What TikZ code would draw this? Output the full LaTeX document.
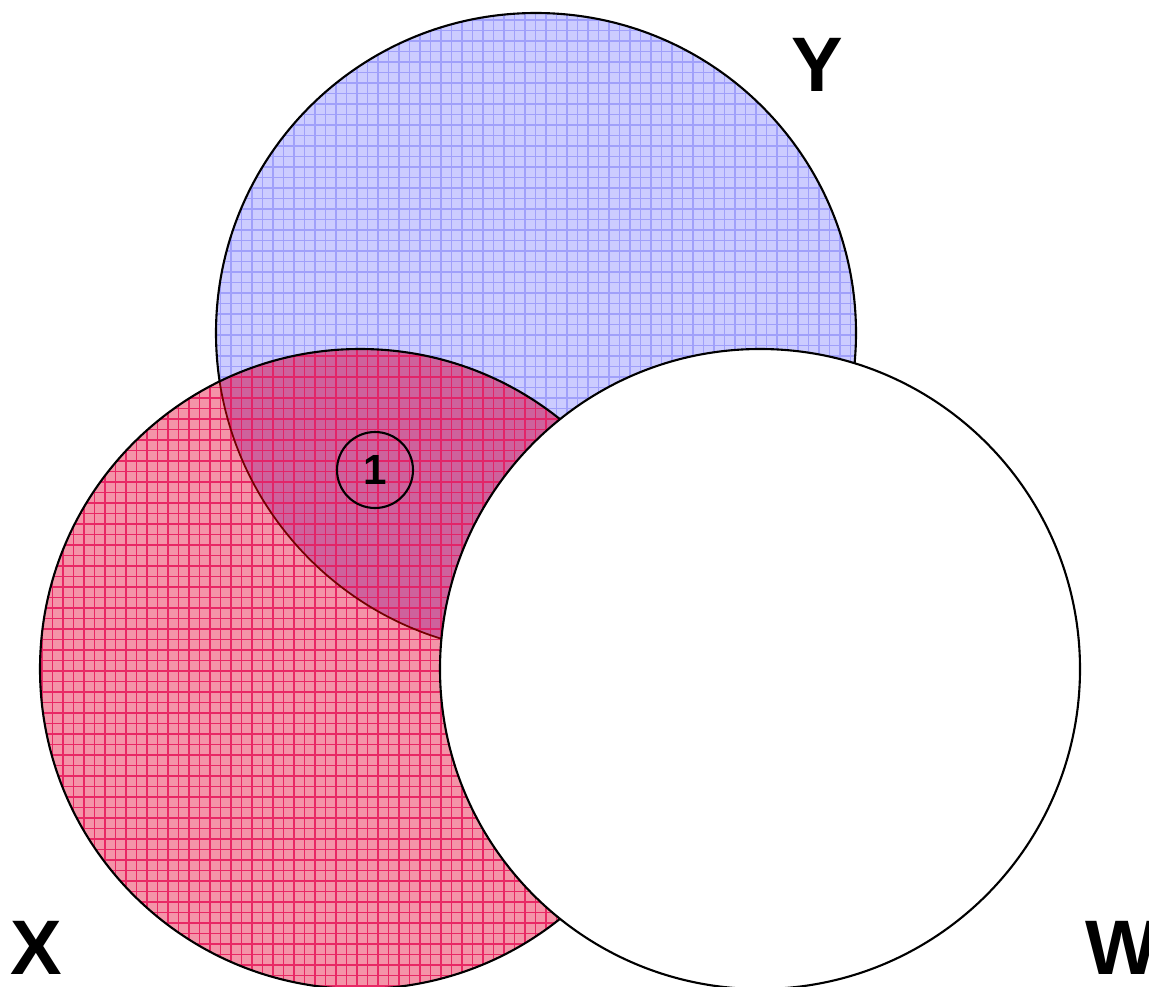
\documentclass[tikz,border=0pt]{standalone}
\usepackage{fontspec}
\setmainfont{Liberation Sans}
\usetikzlibrary{positioning}
\definecolor{yfill}{RGB}{204,204,255}
\definecolor{ygrid}{RGB}{160,160,250}
\definecolor{xfill}{RGB}{244,148,168}
\definecolor{xgrid}{RGB}{232,40,100}
\definecolor{xyfill}{RGB}{206,98,156}
\definecolor{xygrid}{RGB}{226,36,104}
\tikzset{
  setlabel/.style={font=\fontsize{22}{26}\selectfont\bfseries},
  gridlines/.style={line width=0.35pt,step=0.105},
  outline/.style={line width=0.6pt}
}
\begin{document}
\begin{tikzpicture}
      \useasboundingbox (0,0) rectangle (11.49,9.86);
      \coordinate (cy) at (5.36,6.53);
      \coordinate (cx) at (3.60,3.17);
      \coordinate (cw) at (7.60,3.17);
      % set Y
      \begin{scope}
        \clip (cy) circle (3.2);
        \fill[yfill] (cy) circle (3.2);
        \draw[gridlines,ygrid] (2,3) grid (9,10);
      \end{scope}
      \draw[outline] (cy) circle (3.2);
      % set X
      \begin{scope}
        \clip (cx) circle (3.2);
        \fill[xfill] (cx) circle (3.2);
        \draw[gridlines,xgrid] (0,-0.5) grid (7,7);
        \clip (cy) circle (3.2);
        \fill[xyfill] (cx) circle (3.2);
        \draw[gridlines,xygrid] (0,-0.5) grid (7,7);
      \end{scope}
      \begin{scope}
        \clip (cx) circle (3.2);
        \draw[line width=0.5pt,red!45!black] (cy) circle (3.2);
      \end{scope}
      \draw[outline] (cx) circle (3.2);
      % set W
      \draw[outline,fill=white] (cw) circle (3.2);
      \node[draw,circle,line width=0.6pt,minimum size=0.76cm,inner sep=0pt,
        font=\fontsize{12}{14}\selectfont\bfseries] (reg1) at (3.75,5.16) {1};
      \node[setlabel] (ly) at (8.17,9.21) {Y};
      \node[setlabel] (lx) at (0.36,0.38) {X};
      \node[setlabel] (lw) at (11.22,0.38) {W};
    \end{tikzpicture}
\end{document}
